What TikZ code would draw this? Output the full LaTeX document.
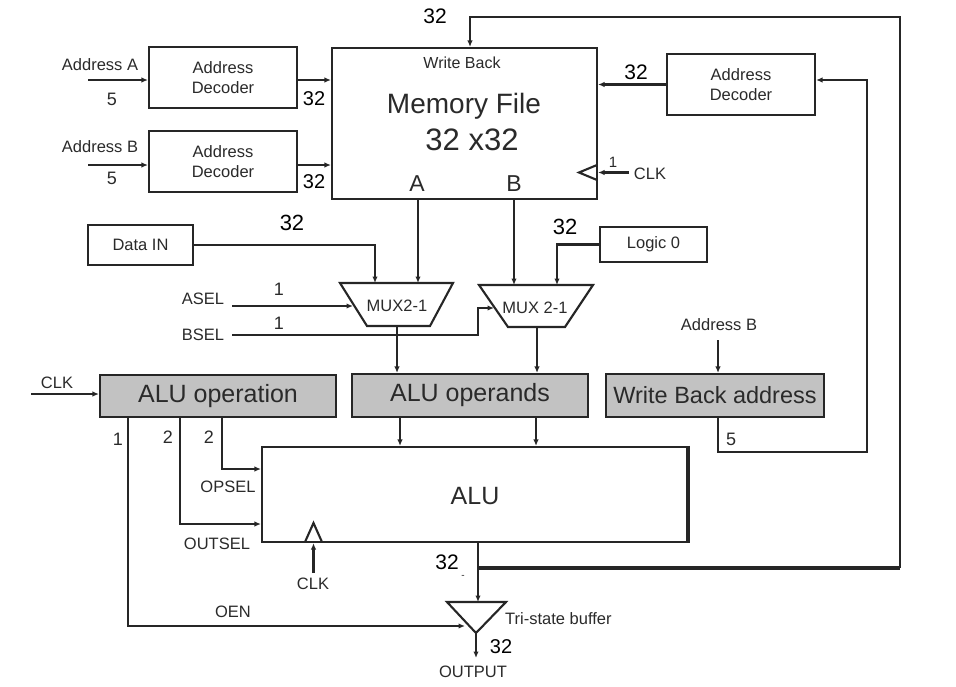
\documentclass[tikz,border=0pt]{standalone}
\usepackage{fontspec}
\setmainfont{Liberation Sans}
\usetikzlibrary{arrows.meta,calc}
\definecolor{linec}{HTML}{262626}
\definecolor{textc}{HTML}{2A2A2A}
\definecolor{boxg}{HTML}{C2C2C2}
\begin{document}
\begin{tikzpicture}[x=1pt,y=-1pt,
  ln/.style={draw=linec,line width=2.1pt},
  arr/.style={ln,-{Latex[length=6.5pt,width=5.5pt]}},
  box/.style={draw=linec,line width=2.1pt,fill=white,inner sep=0pt,align=center,text=textc},
  gbox/.style={box,fill=boxg},
  lab/.style={text=textc,inner sep=0pt,align=center,font=\fontsize{16.5}{20}\selectfont},
  num/.style={text=black,inner sep=0pt,font=\fontsize{21}{24}\selectfont},
  sm/.style={text=textc,inner sep=0pt,font=\fontsize{18}{20}\selectfont},
  big/.style={font=\fontsize{25}{28}\selectfont},
]
\useasboundingbox (0,0) rectangle (956,686);

% ---------- boxes ----------
\node[box,minimum width=148pt,minimum height=61pt,font=\fontsize{16.5}{20}\selectfont] (decA) at (223,77.5) {Address\\Decoder};
\node[box,minimum width=148pt,minimum height=61pt,font=\fontsize{16.5}{20}\selectfont] (decB) at (223,161.5) {Address\\Decoder};
\node[box,minimum width=265pt,minimum height=151pt] (mem) at (464.5,123.5) {};
\node[box,minimum width=148pt,minimum height=61pt,font=\fontsize{16.5}{20}\selectfont] (decR) at (741,84.5) {Address\\Decoder};
\node[box,minimum width=105pt,minimum height=40pt,font=\fontsize{16.5}{20}\selectfont] (dataIN) at (140.5,245) {Data IN};
\node[box,minimum width=107pt,minimum height=35pt,font=\fontsize{16.5}{20}\selectfont] (logic0) at (653.5,244.5) {Logic 0};
\node[gbox,minimum width=236pt,minimum height=42pt,big] (aluop) at (218,396) {ALU operation};
\node[gbox,minimum width=236pt,minimum height=43pt,big] (aluopd) at (470,395.5) {ALU operands};
\node[gbox,minimum width=218pt,minimum height=43pt,font=\fontsize{23.5}{28}\selectfont] (wbaddr) at (715,395.5) {Write Back address};
\node[box,minimum width=425pt,minimum height=95pt] (alu) at (474.5,494.5) {};
\draw[draw=linec,line width=3.4pt] (alu.north east) -- (alu.south east);

% ---------- memory file texts ----------
\node[lab,font=\fontsize{16}{20}\selectfont] (wbtxt) at (462,63) {Write Back};
\node[text=textc,inner sep=0pt,font=\fontsize{28}{30}\selectfont] (memtxt) at (464,106) {Memory File};
\node[text=textc,inner sep=0pt,font=\fontsize{31}{33}\selectfont] (memsz) at (472,140) {32 x32};
\node[text=textc,inner sep=0pt,font=\fontsize{23}{24}\selectfont] (portA) at (417,184) {A};
\node[text=textc,inner sep=0pt,font=\fontsize{23}{24}\selectfont] (portB) at (514,184) {B};
\node[text=textc,inner sep=0pt,big] (alutxt) at (475,496) {ALU};

% ---------- left address inputs ----------
\node[lab] (addrA) at (100,65) {Address A};
\node[sm] (nA5) at (112,99) {5};
\coordinate (inA) at (88,80);
\draw[arr] (inA) -- (inA -| decA.west);
\draw[arr] (decA.east |- inA) -- (mem.west |- inA);
\node[num,font=\fontsize{20}{24}\selectfont] (nA32) at (314,99) {32};

\node[lab] (addrB) at (100,147) {Address B};
\node[sm] (nB5) at (112,178) {5};
\coordinate (inB) at (88,165);
\draw[arr] (inB) -- (inB -| decB.west);
\draw[arr] (decB.east |- inB) -- (mem.west |- inB);
\node[num,font=\fontsize{20}{24}\selectfont] (nB32) at (314,182) {32};

% ---------- right decoder ----------
\draw[arr] (decR.west) -- (decR.west -| mem.east);
\node[num] (nR32) at (636,72) {32};

% memory clock
\draw[ln,line join=miter] (597,165) -- (579,172.5) -- (597,180);
\node[lab] (clkM) at (650,174) {CLK};
\node[lab,font=\fontsize{15}{18}\selectfont] (nM1) at (613,162) {1};
\coordinate (clkMs) at (629,172.5);
\draw[arr] (clkMs) -- (clkMs -| mem.east);

% ---------- feedback from ALU ----------
\coordinate (fb0) at (478,568);
\coordinate (fb1) at (900,568);
\coordinate (fb2) at (900,17);
\coordinate (fb3) at (470,17);
\draw[arr,line width=2.4pt] (fb1) -- (fb2) -- (fb3) -- (fb3 |- mem.north);
\draw[draw=linec,line width=3.8pt] (fb0) -- (fb1);
\node[num] (nTop32) at (435,16) {32};

% ---------- write back address path ----------
\node[lab] (addrBr) at (719,325) {Address B};
\coordinate (wbin) at (718,340);
\draw[arr] (wbin) -- (wbin |- wbaddr.north);
\coordinate (wb1) at (718,452);
\coordinate (wb2) at (867,452);
\coordinate (wb3) at (867,80);
\draw[arr] (wb1 |- wbaddr.south) -- (wb1) -- (wb2) -- (wb3) -- (wb3 -| decR.east);
\node[sm] (nW5) at (731,439) {5};

% ---------- multiplexers ----------
\draw[ln,line join=miter] (340,283) -- (453,283) -- (430,326) -- (367,326) -- cycle;
\node[lab] (mux1) at (397,306) {MUX2-1};
\draw[ln,line join=miter] (479,285) -- (593,285) -- (565,327) -- (508,327) -- cycle;
\node[lab] (mux2) at (535,308) {MUX 2-1};

\coordinate (m1a) at (375,283);
\coordinate (m1b) at (418,283);
\coordinate (m2a) at (514,285);
\coordinate (m2b) at (557,285);
\draw[arr] (dataIN.east) -| (m1a);
\draw[arr] (mem.south -| m1b) -- (m1b);
\draw[arr] (mem.south -| m2a) -- (m2a);
\draw[arr] (logic0.west) -| (m2b);
\node[num,font=\fontsize{22}{24}\selectfont] (nD32) at (292,223) {32};
\node[num,font=\fontsize{22}{24}\selectfont] (nL32) at (565,227) {32};

\node[lab] (asel) at (203,299) {ASEL};
\node[lab] (bsel) at (203,335) {BSEL};
\node[sm] (nAs1) at (279,289) {1};
\node[sm] (nBs1) at (279,323) {1};
\coordinate (aselS) at (232,306);
\coordinate (m1l) at (353,306);
\draw[arr] (aselS) -- (m1l);
\coordinate (bselS) at (232,335);
\coordinate (bk1) at (478,335);
\coordinate (bk2) at (478,308);
\coordinate (m2l) at (494,308);
\draw[arr] (bselS) -- (bk1) -- (bk2) -- (m2l);

\coordinate (m1o) at (397,326);
\coordinate (m2o) at (537,327);
\draw[arr] (m1o) -- (m1o |- aluopd.north);
\draw[arr] (m2o) -- (m2o |- aluopd.north);

% ---------- ALU inputs ----------
\node[lab] (clkL) at (57,383) {CLK};
\coordinate (clkLs) at (31,394);
\draw[arr] (clkLs) -- (clkLs -| aluop.west);

\coordinate (o1) at (400,417);
\coordinate (o2) at (536,417);
\draw[arr] (o1) -- (o1 |- alu.north);
\draw[arr] (o2) -- (o2 |- alu.north);

\coordinate (s1) at (222,417);
\coordinate (s1c) at (222,469);
\draw[arr] (s1) -- (s1c) -- (s1c -| alu.west);
\coordinate (s2) at (180,417);
\coordinate (s2c) at (180,524);
\draw[arr] (s2) -- (s2c) -- (s2c -| alu.west);
\coordinate (s3) at (128,417);
\coordinate (s3c) at (128,626);
\coordinate (triL) at (465,626);
\draw[arr] (s3) -- (s3c) -- (triL);

\node[sm] (n1) at (118,439) {1};
\node[sm] (n2a) at (168,437) {2};
\node[sm] (n2b) at (209,437) {2};
\node[lab] (opsel) at (228,487) {OPSEL};
\node[lab] (outsel) at (217,544) {OUTSEL};
\node[lab] (oen) at (233,612) {OEN};

% ALU clock
\draw[ln,line join=miter] (305,542) -- (313.5,523) -- (322,542);
\node[lab] (clkA) at (313,584) {CLK};
\coordinate (clkAs) at (313.5,573);
\draw[arr] (clkAs) -- (clkAs |- alu.south);

% ---------- ALU output & tri-state ----------
\coordinate (triT) at (478,602);
\draw[arr] (fb0 |- alu.south) -- (triT);
\draw[ln,line join=miter] (447,602) -- (506,602) -- (476,633) -- cycle;
\coordinate (triB) at (476,633);
\coordinate (outE) at (476,658);
\draw[arr] (triB) -- (outE);
\node[num] (nO32) at (447,562) {32};
\node[text=textc,inner sep=0pt,font=\fontsize{10}{12}\selectfont] (dash) at (463,577) {-};
\node[lab,anchor=west] (tri) at (505,619) {Tri-state buffer};
\node[num,font=\fontsize{20}{24}\selectfont] (nOut32) at (501,647) {32};
\node[lab] (output) at (473,672) {OUTPUT};
\end{tikzpicture}
\end{document}
